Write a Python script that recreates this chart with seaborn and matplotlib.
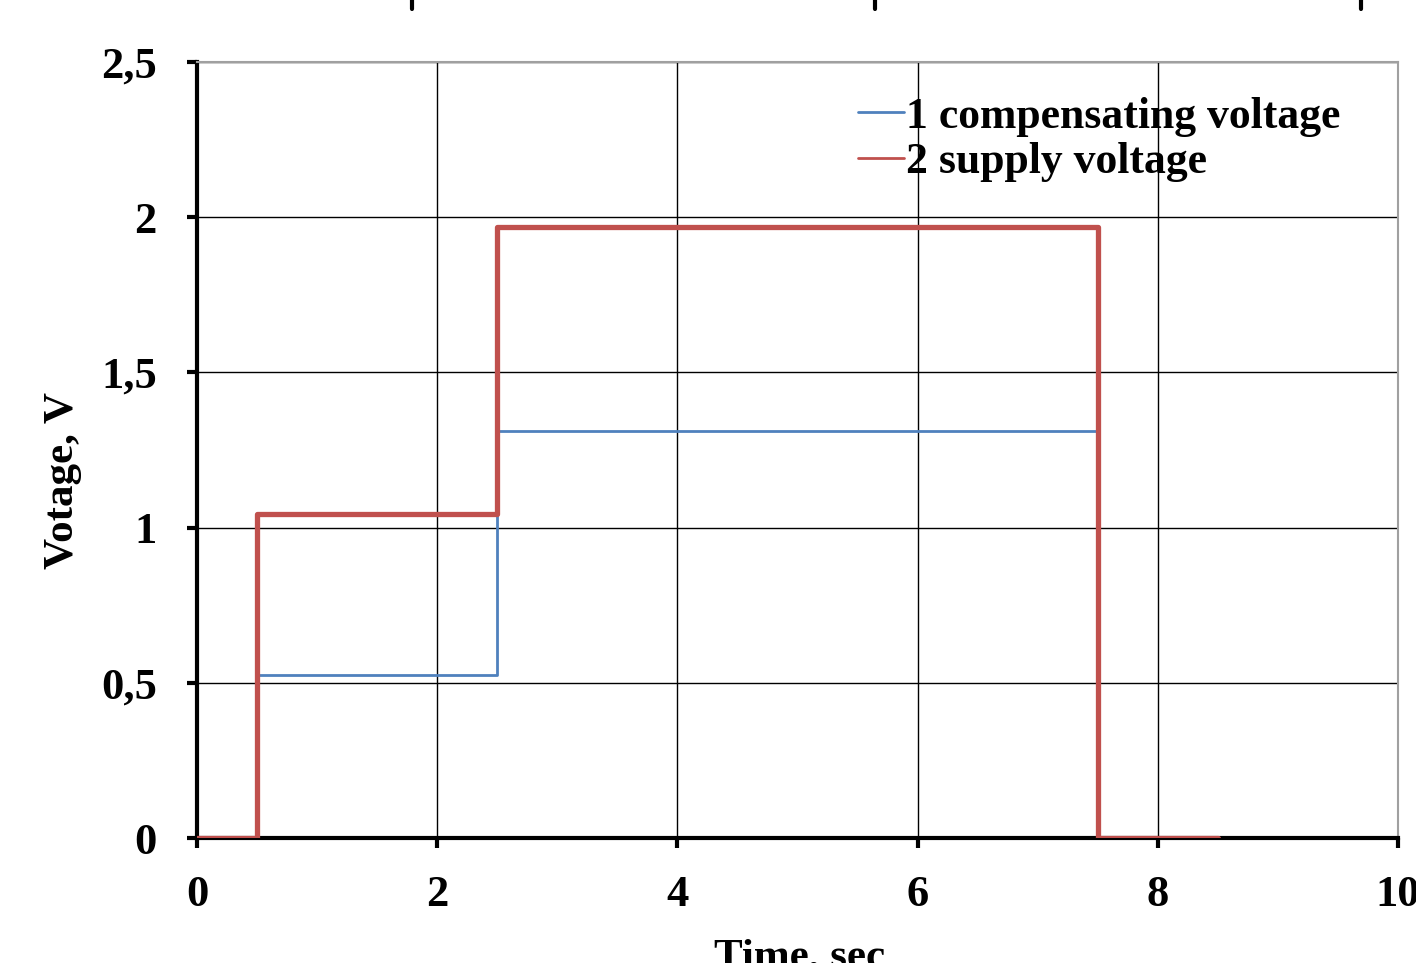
import matplotlib
matplotlib.use("Agg")
import matplotlib.pyplot as plt
import seaborn as sns
import pandas as pd
from matplotlib.lines import Line2D

# ---- data ----
time_s = [0, 0.5, 2.5, 7.5, 8.5]
compensating = [0, 0.525, 1.31, 0, 0]
supply = [0, 1.045, 1.97, 0, 0]
series_names = ["1 compensating voltage", "2 supply voltage"]
x_ticks = [0, 2, 4, 6, 8, 10]
x_tick_labels = ["0", "2", "4", "6", "8", "10"]
y_ticks = [0, 0.5, 1, 1.5, 2, 2.5]
y_tick_labels = ["0", "0,5", "1", "1,5", "2", "2,5"]
colors = ["#4F81BD", "#C0504D"]

df = pd.DataFrame({
    "time": time_s * 2,
    "voltage": compensating + supply,
    "series": [series_names[0]] * len(time_s) + [series_names[1]] * len(time_s),
})

sns.set_theme(style="white")
plt.rcParams["font.family"] = ["Liberation Serif", "DejaVu Serif"]
plt.rcParams["font.weight"] = "bold"
plt.rcParams["text.color"] = "black"
plt.rcParams["xtick.color"] = "black"
plt.rcParams["ytick.color"] = "black"
plt.rcParams["axes.labelcolor"] = "black"

fig = plt.figure(figsize=(14.16, 9.63), dpi=100)
ax = fig.add_axes([197 / 1416, 1 - 838 / 963, (1398 - 197) / 1416, (838 - 62) / 963])

for name, col, lw, z in [(series_names[0], colors[0], 2.0, 3), (series_names[1], colors[1], 3.8, 4)]:
    sub = df[df["series"] == name]
    sns.lineplot(data=sub, x="time", y="voltage", ax=ax, color=col, linewidth=lw,
                 drawstyle="steps-post", zorder=z, legend=False)

ax.set_xlim(0, 10)
ax.set_ylim(0, 2.5)
ax.set_xticks(x_ticks)
ax.set_xticklabels(x_tick_labels)
ax.set_yticks(y_ticks)
ax.set_yticklabels(y_tick_labels)
ax.grid(True, color="black", linewidth=1.0)
ax.set_axisbelow(True)

for s in ["left", "bottom"]:
    ax.spines[s].set_color("black")
    ax.spines[s].set_linewidth(3.0)
for s in ["top", "right"]:
    ax.spines[s].set_color("#A0A0A0")
    ax.spines[s].set_linewidth(1.5)

ax.tick_params(axis="both", direction="out", length=7, width=3.0, color="black",
               labelsize=32, labelcolor="black", left=True, bottom=True)
ax.tick_params(axis="y", pad=22)
ax.tick_params(axis="x", pad=20)
for lab in ax.get_xticklabels() + ax.get_yticklabels():
    lab.set_fontweight("bold")

ax.set_ylabel("")
ax.set_xlabel("")
fig.text(63 / 1416, 1 - 480 / 963, "Votage, V", rotation=90, ha="center", va="center",
         fontsize=31, fontweight="bold", color="black")
fig.text(800 / 1416, 1 - 938 / 963, "Time, sec", ha="center", va="top",
         fontsize=31, fontweight="bold", color="black")

handles = [Line2D([0], [0], color=colors[0], linewidth=2.0),
           Line2D([0], [0], color=colors[1], linewidth=2.0)]
ax.legend(handles, series_names, loc="upper right", bbox_to_anchor=(0.985, 1.006),
          frameon=False, handlelength=1.05, handletextpad=0.05,
          labelspacing=0.12, prop={"weight": "bold", "size": 31.5})

# leftover tick marks from an adjacent figure at the top edge
for xp in [412 / 1416, 875 / 1416, 1361 / 1416]:
    fig.add_artist(Line2D([xp, xp], [1.0, 1 - 9 / 963], transform=fig.transFigure,
                          color="black", linewidth=3.0))

fig.savefig("out.png", dpi=100)
